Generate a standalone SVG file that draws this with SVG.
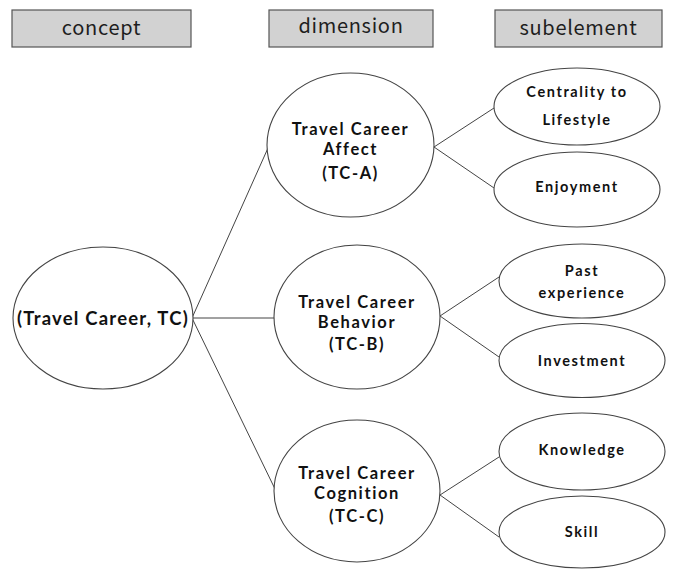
<svg xmlns="http://www.w3.org/2000/svg" width="682" height="570" viewBox="0 0 682 570">
  <style>
    .hdr rect { fill: #d2d2d2; stroke: #555; stroke-width: 1.2; }
    .hdr text { font-family: "Noto Sans CJK KR", "Noto Sans", sans-serif; font-size: 20px; letter-spacing: 0.7px; fill: #1e1e1e; text-anchor: middle; }
    .node ellipse { fill: #fff; stroke: #444; stroke-width: 1.1; }
    .node text { font-family: Lato, "Noto Sans CJK KR", sans-serif; fill: #111; text-anchor: middle; font-weight: bold; }
    .dim text { font-size: 16.5px; letter-spacing: 1.6px; }
    .sub text { font-size: 14.5px; letter-spacing: 1.6px; }
    .root text { font-size: 18.5px; letter-spacing: 1.2px; }
    #connectors line { stroke: #444; stroke-width: 1; }
  </style>
  <rect width="682" height="570" fill="#fff"/>

  <!-- column headers -->
  <g id="hdr-concept" class="hdr"><rect x="12" y="10" width="179" height="37"/><text x="101.5" y="35">concept</text></g>
  <g id="hdr-dimension" class="hdr"><rect x="269" y="10" width="164" height="37"/><text x="351" y="33">dimension</text></g>
  <g id="hdr-subelement" class="hdr"><rect x="495" y="10" width="167" height="37"/><text x="578.5" y="35">subelement</text></g>

  <!-- connectors -->
  <g id="connectors">
    <line x1="192" y1="318" x2="268" y2="148"/>
    <line x1="192" y1="318" x2="275" y2="318"/>
    <line x1="192" y1="318" x2="275" y2="489"/>
    <line x1="434" y1="147" x2="494" y2="108"/>
    <line x1="434" y1="147" x2="494" y2="188"/>
    <line x1="440" y1="316" x2="499" y2="277"/>
    <line x1="440" y1="316" x2="499" y2="357"/>
    <line x1="440" y1="495" x2="499" y2="457"/>
    <line x1="440" y1="495" x2="499" y2="537"/>
  </g>

  <!-- concept -->
  <g id="tc" class="node root">
    <ellipse cx="103" cy="318" rx="90" ry="71"/>
    <text x="103" y="325">(Travel Career, TC)</text>
  </g>

  <!-- dimensions -->
  <g id="tc-a" class="node dim">
    <ellipse cx="350.5" cy="145" rx="83.5" ry="72"/>
    <text x="350.5" y="135">Travel Career</text>
    <text x="350.5" y="155">Affect</text>
    <text x="350.5" y="179">(TC-A)</text>
  </g>
  <g id="tc-b" class="node dim">
    <ellipse cx="357" cy="317" rx="83" ry="72"/>
    <text x="357" y="308">Travel Career</text>
    <text x="357" y="328">Behavior</text>
    <text x="357" y="350">(TC-B)</text>
  </g>
  <g id="tc-c" class="node dim">
    <ellipse cx="357" cy="491" rx="83" ry="71"/>
    <text x="357" y="479">Travel Career</text>
    <text x="357" y="499">Cognition</text>
    <text x="357" y="522">(TC-C)</text>
  </g>

  <!-- subelements -->
  <g id="centrality" class="node sub">
    <ellipse cx="577" cy="106.5" rx="83" ry="38.5"/>
    <text x="577" y="97">Centrality to</text>
    <text x="577" y="125">Lifestyle</text>
  </g>
  <g id="enjoyment" class="node sub">
    <ellipse cx="577" cy="189.5" rx="83" ry="37.5"/>
    <text x="577" y="192">Enjoyment</text>
  </g>
  <g id="past-experience" class="node sub">
    <ellipse cx="582" cy="281" rx="83" ry="37"/>
    <text x="582" y="276">Past</text>
    <text x="582" y="298">experience</text>
  </g>
  <g id="investment" class="node sub">
    <ellipse cx="582" cy="360.5" rx="83" ry="37"/>
    <text x="582" y="366">Investment</text>
  </g>
  <g id="knowledge" class="node sub">
    <ellipse cx="582" cy="451.5" rx="83" ry="38.5"/>
    <text x="582" y="455">Knowledge</text>
  </g>
  <g id="skill" class="node sub">
    <ellipse cx="582" cy="532" rx="83" ry="36"/>
    <text x="582" y="537">Skill</text>
  </g>
</svg>
